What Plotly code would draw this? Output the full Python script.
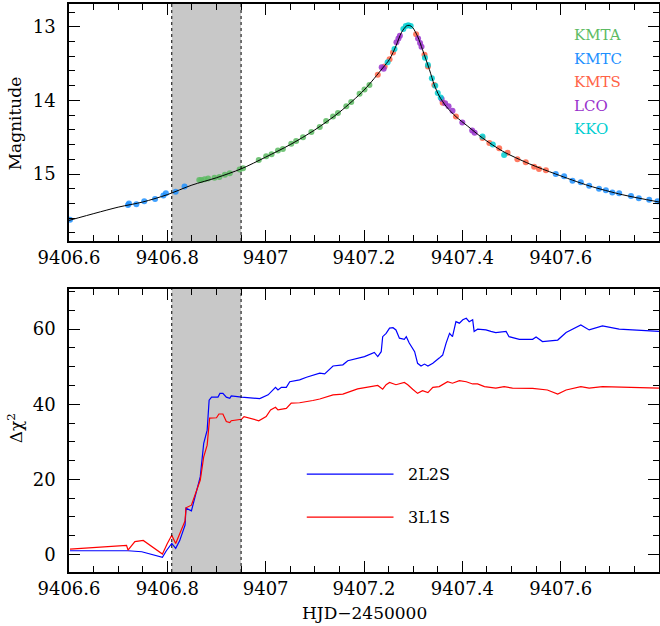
import plotly.graph_objects as go

# ---------------- data ----------------
shade_x0, shade_x1 = 9406.809, 9406.950

model_t = [9406.600, 9406.700, 9406.750, 9406.800, 9406.850, 9406.900, 9406.950, 9407.000,
           9407.050, 9407.100, 9407.150, 9407.200, 9407.238, 9407.252, 9407.265, 9407.276,
           9407.286, 9407.292, 9407.299, 9407.309, 9407.319, 9407.333, 9407.343, 9407.353,
           9407.367, 9407.387, 9407.411, 9407.441, 9407.482, 9407.536, 9407.590, 9407.658,
           9407.725, 9407.800]
model_mag = [15.63, 15.45, 15.38, 15.28, 15.15, 15.05, 14.93, 14.77,
             14.60, 14.40, 14.16, 13.86, 13.56, 13.44, 13.26, 13.08,
             12.99, 12.98, 13.01, 13.13, 13.31, 13.58, 13.79, 13.94,
             14.08, 14.22, 14.35, 14.51, 14.69, 14.86, 15.00, 15.16,
             15.28, 15.38]

kmta_t = [9406.865, 9406.869, 9406.876, 9406.883, 9406.896, 9406.906, 9406.917, 9406.927,
          9406.947, 9406.954, 9406.986, 9407.001, 9407.012, 9407.025, 9407.035, 9407.052,
          9407.062, 9407.076, 9407.093, 9407.110, 9407.123, 9407.137, 9407.147, 9407.164,
          9407.174, 9407.191, 9407.201, 9407.211]
kmta_mag = [15.08, 15.08, 15.07, 15.06, 15.05, 15.04, 15.01, 14.99,
            14.94, 14.92, 14.81, 14.76, 14.73, 14.68, 14.66, 14.59,
            14.55, 14.50, 14.43, 14.36, 14.28, 14.22, 14.17, 14.08,
            14.02, 13.91, 13.85, 13.79]

kmtc_t = [9406.602, 9406.720, 9406.722, 9406.737, 9406.753, 9406.775, 9406.792, 9406.797,
          9406.817, 9406.835, 9407.590, 9407.607, 9407.624, 9407.641, 9407.658, 9407.678,
          9407.692, 9407.705, 9407.719, 9407.743, 9407.759, 9407.780, 9407.797]
kmtc_mag = [15.62, 15.42, 15.40, 15.41, 15.37, 15.34, 15.29, 15.26,
            15.24, 15.17, 15.00, 15.03, 15.09, 15.11, 15.16, 15.20,
            15.22, 15.25, 15.26, 15.30, 15.33, 15.35, 15.37]

kmts_t = [9407.228, 9407.242, 9407.252, 9407.259, 9407.306, 9407.323, 9407.330, 9407.343,
          9407.360, 9407.387, 9407.441, 9407.455, 9407.475, 9407.492, 9407.512, 9407.529,
          9407.546, 9407.556, 9407.570]
kmts_mag = [13.65, 13.54, 13.44, 13.35, 13.10, 13.38, 13.54, 13.79,
            14.03, 14.22, 14.51, 14.58, 14.65, 14.71, 14.80, 14.84,
            14.90, 14.93, 14.95]

lco_t = [9407.236, 9407.240, 9407.266, 9407.270, 9407.273, 9407.310, 9407.314, 9407.317,
         9407.358, 9407.365, 9407.372, 9407.380, 9407.400, 9407.420, 9407.425]
lco_mag = [13.55, 13.57, 13.21, 13.16, 13.12, 13.16, 13.22, 13.27,
           13.98, 14.04, 14.08, 14.14, 14.30, 14.41, 14.44]

kko_t = [9407.248, 9407.262, 9407.280, 9407.285, 9407.290, 9407.295, 9407.324, 9407.330,
         9407.338, 9407.345, 9407.350, 9407.356, 9407.441, 9407.462, 9407.485]
kko_mag = [13.48, 13.30, 13.03, 12.99, 12.98, 12.99, 13.42, 13.52,
           13.70, 13.80, 13.90, 13.96, 14.49, 14.60, 14.74]

l2s_t = [9406.602, 9406.720, 9406.748, 9406.764, 9406.790, 9406.798, 9406.809, 9406.817,
         9406.825, 9406.836, 9406.838, 9406.849, 9406.859, 9406.867, 9406.874, 9406.881,
         9406.885, 9406.890, 9406.903, 9406.907, 9406.913, 9406.920, 9406.927, 9406.930,
         9406.951, 9406.988, 9407.005, 9407.020, 9407.025, 9407.032, 9407.042, 9407.049,
         9407.069, 9407.083, 9407.110, 9407.120, 9407.137, 9407.157, 9407.167, 9407.187,
         9407.201, 9407.221, 9407.228, 9407.235, 9407.238, 9407.245, 9407.252, 9407.259,
         9407.265, 9407.272, 9407.282, 9407.286, 9407.292, 9407.303, 9407.309, 9407.316,
         9407.323, 9407.330, 9407.340, 9407.353, 9407.360, 9407.367, 9407.374, 9407.380,
         9407.387, 9407.394, 9407.401, 9407.408, 9407.414, 9407.421, 9407.424, 9407.431,
         9407.448, 9407.458, 9407.468, 9407.489, 9407.495, 9407.516, 9407.543, 9407.550,
         9407.563, 9407.594, 9407.611, 9407.641, 9407.658, 9407.685, 9407.705, 9407.719,
         9407.800]
l2s_chi = [0.96, 0.96, 0.7, 0.08, -0.8, 0.96, 2.9, 1.6,
           3.6, 7.8, 12.3, 11.6, 17.1, 20.7, 29.6, 33.1,
           41.1, 41.9, 41.9, 42.9, 42.9, 41.9, 41.6, 42.2,
           41.9, 41.5, 42.5, 44.5, 43.8, 44.5, 44.5, 46.0,
           46.5, 47.2, 48.3, 48.1, 50.2, 50.5, 51.6, 52.3,
           52.7, 53.8, 52.7, 54.0, 58.0, 58.9, 60.3, 60.4,
           59.8, 57.6, 57.3, 58.0, 56.3, 54.0, 50.9, 50.2,
           50.7, 50.2, 50.9, 52.3, 53.1, 56.3, 58.9, 58.0,
           62.0, 61.6, 62.5, 62.9, 62.0, 62.5, 59.4, 60.0,
           59.8, 59.4, 59.1, 59.4, 58.0, 57.3, 57.3, 57.9,
           56.7, 57.1, 59.1, 61.1, 59.8, 60.9, 60.3, 60.0,
           59.4]

l1s_t = [9406.602, 9406.717, 9406.720, 9406.734, 9406.751, 9406.790, 9406.800, 9406.809,
         9406.817, 9406.836, 9406.838, 9406.849, 9406.867, 9406.874, 9406.881, 9406.886,
         9406.900, 9406.905, 9406.913, 9406.920, 9406.927, 9406.930, 9406.951, 9406.956,
         9406.986, 9407.001, 9407.010, 9407.020, 9407.025, 9407.042, 9407.052, 9407.069,
         9407.096, 9407.110, 9407.137, 9407.157, 9407.187, 9407.211, 9407.228, 9407.238,
         9407.245, 9407.252, 9407.265, 9407.282, 9407.289, 9407.299, 9407.309, 9407.319,
         9407.330, 9407.340, 9407.353, 9407.370, 9407.380, 9407.394, 9407.408, 9407.421,
         9407.431, 9407.445, 9407.468, 9407.485, 9407.502, 9407.543, 9407.573, 9407.594,
         9407.611, 9407.641, 9407.658, 9407.685, 9407.800]
l1s_chi = [1.41, 2.4, 1.15, 3.4, 3.7, 0.08, 2.9, 5.1,
           2.9, 8.9, 12.4, 13.1, 19.8, 26.0, 29.1, 36.3,
           36.4, 37.4, 37.4, 35.4, 35.1, 35.6, 36.0, 36.7,
           35.6, 36.7, 38.5, 39.2, 38.5, 38.9, 40.3, 40.4,
           41.0, 41.4, 42.5, 42.7, 44.1, 44.7, 45.0, 44.0,
           45.2, 45.8, 45.2, 45.8, 45.2, 44.0, 42.9, 43.6,
           43.1, 44.5, 44.7, 46.0, 45.6, 46.3, 46.0, 45.4,
           45.4, 44.7, 44.3, 44.7, 44.3, 44.2, 43.8, 42.7,
           43.8, 44.7, 44.3, 44.7, 44.3]

x_tickvals = [9406.6, 9406.8, 9407.0, 9407.2, 9407.4, 9407.6]
x_ticktext = ["9406.6", "9406.8", "9407", "9407.2", "9407.4", "9407.6"]
mag_ticks = [13, 14, 15]
chi_ticks = [0, 20, 40, 60]

obs_names = ["KMTA", "KMTC", "KMTS", "LCO", "KKO"]
obs_colors = ["#5DBB63", "#1E90FF", "#FF6347", "#9932CC", "#00CED1"]
obs_t = [kmta_t, kmtc_t, kmts_t, lco_t, kko_t]
obs_mag = [kmta_mag, kmtc_mag, kmts_mag, lco_mag, kko_mag]

FONT = "DejaVu Serif"

# ---------------- figure ----------------
fig = go.Figure()

for name, col, t, m in zip(obs_names, obs_colors, obs_t, obs_mag):
    fig.add_trace(go.Scatter(x=t, y=m, mode="markers", name=name,
                             marker=dict(color=col, size=6, opacity=0.85, line=dict(width=0)),
                             xaxis="x", yaxis="y", showlegend=False))

fig.add_trace(go.Scatter(x=model_t, y=model_mag, mode="lines", line=dict(color="black", width=1, shape="spline", smoothing=0.8),
                         xaxis="x", yaxis="y", showlegend=False))

fig.add_trace(go.Scatter(x=l2s_t, y=l2s_chi, mode="lines", line=dict(color="#0000FF", width=1.2),
                         xaxis="x2", yaxis="y2", showlegend=False))
fig.add_trace(go.Scatter(x=l1s_t, y=l1s_chi, mode="lines", line=dict(color="#FF0000", width=1.2),
                         xaxis="x2", yaxis="y2", showlegend=False))

axis_common = dict(showline=True, linecolor="black", linewidth=1.5, mirror="allticks",
                   ticks="inside", tickcolor="black", showgrid=False, zeroline=False, automargin=False,
                   tickfont=dict(family=FONT, size=18, color="black"))

xr = [9406.6, 9407.8]
fig.update_layout(
    width=660, height=626,
    margin=dict(l=69, r=1, t=4, b=54),
    plot_bgcolor="white", paper_bgcolor="white",
    xaxis=dict(domain=[0, 1], anchor="y", range=xr, tickmode="array", tickvals=x_tickvals,
               ticktext=x_ticktext, ticklen=11, tickwidth=1.2, ticklabelstandoff=0,
               minor=dict(tickmode="linear", tick0=9406.6, dtick=0.05, ticklen=6, ticks="inside", tickcolor="black"),
               **axis_common),
    yaxis=dict(domain=[0.5827, 1], anchor="x", range=[15.91, 12.69], tickmode="array", tickvals=mag_ticks,
               ticklen=11, tickwidth=1.2, ticklabelstandoff=8,
               minor=dict(tickmode="linear", tick0=13, dtick=0.2, ticklen=6, ticks="inside", tickcolor="black"),
               **axis_common),
    xaxis2=dict(domain=[0, 1], anchor="y2", range=xr, tickmode="array", tickvals=x_tickvals,
                ticktext=x_ticktext, ticklen=11, tickwidth=1.2, ticklabelstandoff=0,
                minor=dict(tickmode="linear", tick0=9406.6, dtick=0.05, ticklen=6, ticks="inside", tickcolor="black"),
                **axis_common),
    yaxis2=dict(domain=[0, 0.4982], anchor="x2", range=[-4.7, 70.7], tickmode="array", tickvals=chi_ticks,
                ticklen=11, tickwidth=1.2, ticklabelstandoff=8,
                minor=dict(tickmode="linear", tick0=0, dtick=5, ticklen=6, ticks="inside", tickcolor="black"),
                **axis_common),
)

shapes = []
for xa, ya in [("x", "y domain"), ("x2", "y2 domain")]:
    shapes.append(dict(type="rect", xref=xa, yref=ya, x0=shade_x0, x1=shade_x1, y0=0, y1=1,
                       fillcolor="#C8C8C8", line=dict(width=0), layer="below"))
    for xv in (shade_x0, shade_x1):
        shapes.append(dict(type="line", xref=xa, yref=ya, x0=xv, x1=xv, y0=0, y1=1,
                           line=dict(color="black", width=1, dash="dot"), layer="above"))
# legend lines for the lower panel
shapes.append(dict(type="line", xref="x2 domain", yref="y2 domain", x0=0.403, x1=0.550, y0=0.346, y1=0.346,
                   line=dict(color="#0000FF", width=1.2)))
shapes.append(dict(type="line", xref="x2 domain", yref="y2 domain", x0=0.403, x1=0.550, y0=0.194, y1=0.194,
                   line=dict(color="#FF0000", width=1.2)))
fig.update_layout(shapes=shapes)

ann = []
leg_y = [0.869, 0.768, 0.671, 0.570, 0.473]
for name, col, yy in zip(obs_names, obs_colors, leg_y):
    ann.append(dict(text=name, xref="x domain", yref="y domain", x=0.853, y=yy, xanchor="left", yanchor="middle",
                    showarrow=False, font=dict(family=FONT, size=15, color=col)))
ann.append(dict(text="2L2S", xref="x2 domain", yref="y2 domain", x=0.572, y=0.346, xanchor="left", yanchor="middle",
                showarrow=False, font=dict(family=FONT, size=16, color="black")))
ann.append(dict(text="3L1S", xref="x2 domain", yref="y2 domain", x=0.572, y=0.194, xanchor="left", yanchor="middle",
                showarrow=False, font=dict(family=FONT, size=16, color="black")))
ann.append(dict(text="Magnitude", xref="paper", yref="paper", x=-0.0915, y=0.79, textangle=-90,
                xanchor="center", yanchor="middle", showarrow=False,
                font=dict(family=FONT, size=17, color="black")))
ann.append(dict(text="Δχ<sup>2</sup>", xref="paper", yref="paper", x=-0.0915, y=0.253, textangle=-90,
                xanchor="center", yanchor="middle", showarrow=False,
                font=dict(family=FONT, size=17, color="black")))
ann.append(dict(text="HJD−2450000", xref="paper", yref="paper", x=0.5, y=-0.072, xanchor="center", yanchor="middle",
                showarrow=False, font=dict(family=FONT, size=17, color="black")))
fig.update_layout(annotations=ann)

fig.write_html("out.html", config={"displayModeBar": False},
               post_script="document.body.style.margin='0';document.body.style.padding='0';")
